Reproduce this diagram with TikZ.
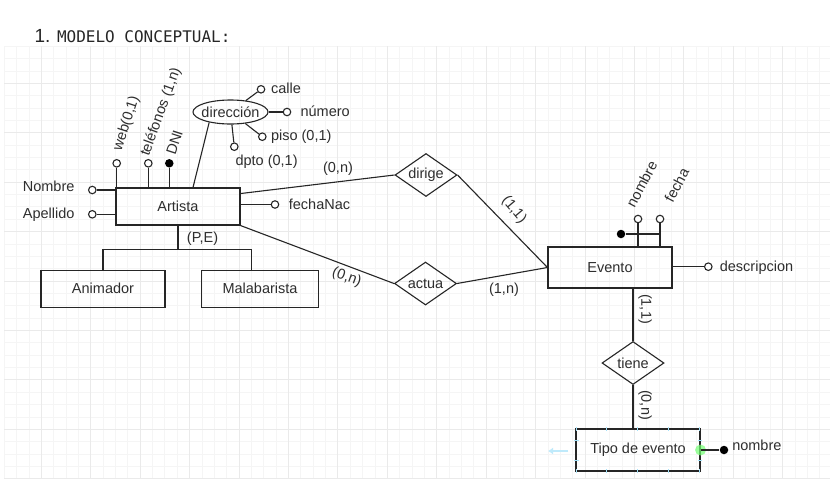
\documentclass[tikz,border=0pt]{standalone}
\usepackage{fontspec}
\setmainfont{Liberation Sans}
\newfontfamily\titlemono{DejaVu Sans Mono}
\usetikzlibrary{calc}
\usetikzlibrary{shapes.geometric}
\usetikzlibrary{arrows.meta}

\definecolor{linea}{HTML}{262626}
\definecolor{texto}{HTML}{2E2E2E}
\definecolor{rejilla}{HTML}{F5F5F5}
\definecolor{rejillaM}{HTML}{EAEAEA}

\begin{document}
\begin{tikzpicture}[x=1pt, y=-1pt, line width=1.1pt, draw=linea,
    every node/.style={font=\fontsize{14.5}{17}\selectfont, text=texto},
    entidad/.style={draw=linea, rectangle, minimum width=124pt, minimum height=37pt, inner sep=0pt},
    relacion/.style={draw=linea, diamond, aspect=1.44, minimum width=62pt, minimum height=43pt, inner sep=0pt},
    atrib/.style={draw=linea, circle, fill=white, minimum size=7.5pt, inner sep=0pt},
    clave/.style={circle, fill=black, minimum size=8.5pt, inner sep=0pt},
    txt/.style={inner sep=0pt},
    card/.style={inner sep=0pt}]

    \useasboundingbox (0,0) rectangle (834,490);
    \fill[white] (0,0) rectangle (834,490);

    \begin{scope}
    \clip (4.2,46.2) rectangle (830,478.9);
    \foreach \i in {0,...,66} \draw[rejilla, line width=0.8pt] ({4.2+12.357*\i},46.2) -- ({4.2+12.357*\i},478.7);
    \foreach \j in {0,...,35} \draw[rejilla, line width=0.8pt] (4.2,{46.2+12.357*\j}) -- (830,{46.2+12.357*\j});
    \foreach \i in {0,...,15} \draw[rejillaM, line width=1pt] ({41.3+49.43*\i},46.2) -- ({41.3+49.43*\i},478.7);
    \foreach \j in {0,...,8} \draw[rejillaM, line width=1pt] (4.2,{83.3+49.43*\j}) -- (830,{83.3+49.43*\j});
    \end{scope}

    \node[txt, anchor=base west, font=\fontsize{19}{22}\selectfont, text=black!85] (tNum) at (34,42.5) {1.};
    \node[txt, anchor=base west, font=\titlemono\fontsize{16}{19}\selectfont, text=black!85] (tTitulo) at (56.5,42.5) {MODELO CONCEPTUAL:};

    \node[entidad] (Artista) at (178,206.5) {Artista};
    \node[entidad, minimum height=37.3pt] (Animador) at (103,288.7) {Animador};
    \node[entidad, minimum width=116.7pt, minimum height=37.3pt] (Malabarista) at (260,288.7) {Malabarista};
    \node[entidad, minimum height=41pt] (Evento) at (610,267.5) {Evento};
    \node[entidad, minimum height=42pt] (Tipo) at (638,450) {Tipo de evento};

    \node[relacion] (dirige) at (426,175) {dirige};
    \node[relacion] (actua) at (425.5,283.5) {actua};
    \node[relacion] (tiene) at (633,363) {tiene};

    \node[atrib] (aNombre) at (92.3,190) {};
    \node[atrib] (aApellido) at (92.3,214.3) {};
    \node[atrib] (aWeb) at (116.7,163.3) {};
    \node[atrib] (aTelefonos) at (148.3,163.3) {};
    \node[clave] (kDNI) at (169.3,163.3) {};
    \node[atrib] (aFechaNac) at (275,204.5) {};
    \node[ellipse, draw=linea, minimum width=75pt, minimum height=24pt, inner xsep=-2.5pt, inner ysep=0pt] (aDireccion) at (230.5,112) {dirección};
    \node[atrib] (aCalle) at (261,89.3) {};
    \node[atrib] (aNumero) at (287,112) {};
    \node[atrib] (aPiso) at (262.3,136.7) {};
    \node[atrib] (aDpto) at (234.3,146.7) {};

    \node[txt, anchor=base east] (tNombre) at (75,191.5) {Nombre};
    \node[txt, anchor=base east] (tApellido) at (75,218.5) {Apellido};
    \node[txt, rotate=72] (tWeb) at (126.5,123.5) {web(0,1)};
    \node[txt, rotate=70] (tTelefonos) at (161,112) {teléfonos (1,n)};
    \node[txt, rotate=72] (tDNI) at (174.5,142.5) {DNI};
    \node[txt, anchor=base west] (tCalle) at (270.5,93.5) {calle};
    \node[txt, anchor=base west] (tNumero) at (300,116.5) {número};
    \node[txt, anchor=base west] (tPiso) at (270.5,140.5) {piso (0,1)};
    \node[txt, anchor=base west] (tDpto) at (235,165.5) {dpto (0,1)};
    \node[txt, anchor=base west] (tFechaNac) at (288.3,209.5) {fechaNac};

    \draw (aNombre) -- (aNombre -| Artista.west);
    \draw (aApellido) -- (aApellido -| Artista.west);
    \draw (aWeb) -- (aWeb |- Artista.north);
    \draw (aTelefonos) -- (aTelefonos |- Artista.north);
    \draw (kDNI) -- (kDNI |- Artista.north);
    \draw (aDireccion.206) -- ($(Artista.north west)!0.62!(Artista.north east)$);
    \draw (aCalle) -- (aDireccion);
    \draw (aNumero) -- (aDireccion);
    \draw (aPiso) -- (aDireccion);
    \draw (aDpto) -- (aDireccion);
    \draw (aFechaNac) -- (aFechaNac -| Artista.east);

    \coordinate (cJerarquia) at (178,249.3);
    \draw (Artista.south) -- (cJerarquia);
    \draw (Animador.north) |- (cJerarquia) -| ($(Malabarista.north west)!0.43!(Malabarista.north east)$);
    \node[card] (cPE) at (202.5,238.5) {(P,E)};

    \draw ($(Artista.north east)!0.16!(Artista.south east)$) -- (dirige.west);
    \draw (dirige.east) -- (Evento.west);
    \draw (Artista.south east) -- (actua.west);
    \draw (actua.east) -- (Evento.west);
    \node[card] (cDirigeA) at (338,168.5) {(0,n)};
    \node[card, rotate=-50] (cDirigeE) at (514,210) {(1,1)};
    \node[card, rotate=-20] (cActuaA) at (346.7,277.5) {(0,n)};
    \node[card] (cActuaE) at (504,290) {(1,n)};

    \node[clave] (kEvento) at (621,234) {};
    \node[atrib] (aNombreEv) at (638,219) {};
    \node[atrib] (aFechaEv) at (660,219) {};
    \node[atrib] (aDesc) at (708.3,266.7) {};
    \draw (kEvento) -- (kEvento -| aFechaEv);
    \draw (aNombreEv) -- (aNombreEv |- Evento.north);
    \draw (aFechaEv) -- (aFechaEv |- Evento.north);
    \draw (aDesc) -- (aDesc -| Evento.east);
    \node[txt, rotate=62] (tNombreEv) at (641.7,184) {nombre};
    \node[txt, rotate=62] (tFechaEv) at (676.7,185) {fecha};
    \node[txt, anchor=base west] (tDesc) at (719.3,271) {descripcion};

    \draw (tiene) -- (tiene |- Evento.south);
    \draw (tiene) -- (tiene |- Tipo.north);
    \node[card, rotate=-90] (cTieneE) at (645,309) {(1,1)};
    \node[card, rotate=-90] (cTieneT) at (645,405) {(0,n)};

    \foreach \x in {576.7,606.7,637.5,668.3,699.3} {
        \draw[cyan!35, line width=0.8pt] (\x,427) -- (\x,431) (\x,469) -- (\x,473);
    }
    \foreach \y in {440,460} {
        \draw[cyan!35, line width=0.8pt] (574,\y) -- (578.5,\y) (697.5,\y) -- (702,\y);
    }
    \draw[cyan!25, line width=2pt, -{Latex[length=5pt, width=7pt]}] (568,451) -- (548,451);
    \fill[green!55!white, opacity=0.7] (Tipo.east) circle (5.5);

    \node[clave] (kTipo) at (724,450) {};
    \draw (Tipo.east) -- (kTipo);
    \node[txt, anchor=base west] (tNombreTipo) at (731.7,450) {nombre};

\end{tikzpicture}
\end{document}
